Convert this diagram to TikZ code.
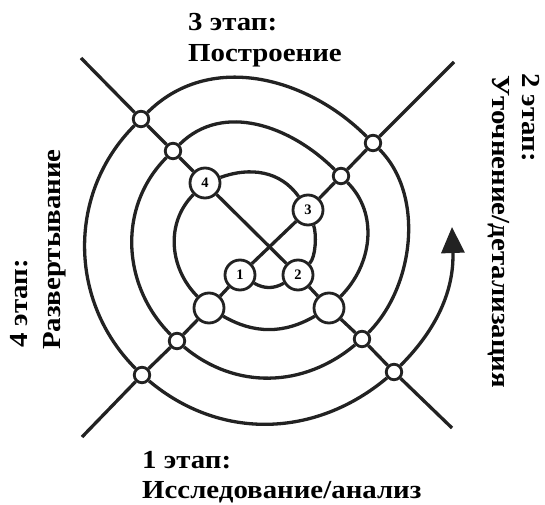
\documentclass[tikz,border=0pt]{standalone}
\usepackage{fontspec}
\setmainfont{Liberation Serif}
\usetikzlibrary{arrows.meta}
\definecolor{lc}{RGB}{34,34,34}
\begin{document}
\begin{tikzpicture}[x=1pt,y=1pt,
  ln/.style={line width=3.3pt, draw=lc},
  sm/.style={circle, draw=lc, fill=white, line width=2.8pt, minimum size=15.5pt, inner sep=0pt},
  bg/.style={circle, draw=lc, fill=white, line width=2.8pt, minimum size=30pt, inner sep=0pt, font=\fontsize{14.5}{14.5}\selectfont\bfseries},
  lbl/.style={font=\fontsize{26}{30}\selectfont\bfseries\addfontfeature{FakeStretch=1.11}, inner sep=0pt, anchor=base west}]
\useasboundingbox (0,0) rectangle (545,504);
\node[bg] (n1) at (240,229) {1};
\node[bg] (n2) at (298,229) {2};
\node[bg] (n3) at (308,294) {3};
\node[bg] (n4) at (205,321) {4};
\node[bg] (bl) at (209,196) {};
\node[bg] (br) at (329,196) {};
\node[sm] (D) at (341,328) {};
\node[sm] (B) at (173,353) {};
\node[sm] (E) at (177,163) {};
\node[sm] (G) at (362,165) {};
\node[sm] (C) at (373,361) {};
\node[sm] (A) at (141,385) {};
\node[sm] (F) at (142,129) {};
\node[sm] (H) at (394,132) {};
\coordinate (eTL) at (81,446);
\coordinate (eBR) at (452,76);
\coordinate (eTR) at (454,442);
\coordinate (eBL) at (82,67);
\coordinate (tip) at (452,277);
\draw[ln] (eTL) -- (A) -- (B) -- (n4) -- (n2) -- (br) -- (G) -- (H) -- (eBR);
\draw[ln] (eTR) -- (C) -- (D) -- (n3) -- (n1) -- (bl) -- (E) -- (F) -- (eBL);
\draw[ln] (n1) to[out=-30,in=210] (n2);
\draw[ln] (n2) to[out=45,in=-70,looseness=0.6] (n3);
\draw[ln] (n3) to[out=125,in=20] (n4);
\draw[ln] (n4) to[out=225,in=135] (bl);
\draw[ln] (bl) to[out=-30,in=210] (br);
\draw[ln] (br) to[out=45,in=-45] (D);
\draw[ln] (D) to[out=135,in=45] (B);
\draw[ln] (B) to[out=225,in=135] (E);
\draw[ln] (E) to[out=-40,in=220] (G);
\draw[ln] (G) to[out=45,in=-45,looseness=0.9] (C);
\draw[ln] (C) to[out=135,in=45] (A);
\draw[ln] (A) to[out=225,in=135] (F);
\draw[ln] (F) to[out=-40,in=220] (H);
\draw[ln,-{Triangle[length=26pt,width=23pt]}] (H) to[out=45,in=-88] (tip);
\node[lbl] (t3a) at (188,473) {3 этап:};
\node[lbl] (t3b) at (188,442) {Построение};
\node[lbl] (t1a) at (142,36) {1 этап:};
\node[lbl] (t1b) at (142,6) {Исследование/анализ};
\node[lbl,rotate=-90] (t2a) at (522,431) {2 этап:};
\node[lbl,rotate=-90] (t2b) at (492,429) {Уточнение/детализация};
\node[lbl,rotate=90] (t4a) at (27,156) {4 этап:};
\node[lbl,rotate=90] (t4b) at (60,154) {Развертывание};
\end{tikzpicture}
\end{document}
